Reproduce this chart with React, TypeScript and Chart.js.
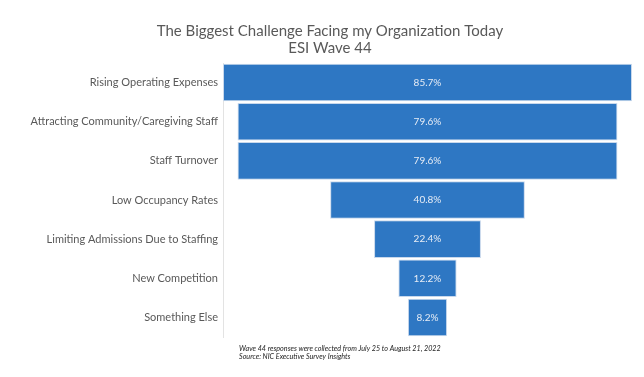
import React, { useEffect, useRef } from "react";
import { Chart, registerables } from "chart.js";

Chart.register(...registerables);

const categories = [
  "Rising Operating Expenses",
  "Attracting Community/Caregiving Staff",
  "Staff Turnover",
  "Low Occupancy Rates",
  "Limiting Admissions Due to Staffing",
  "New Competition",
  "Something Else",
];
const values = [85.7, 79.6, 79.6, 40.8, 22.4, 12.2, 8.2];
const titleLines = ["The Biggest Challenge Facing my Organization Today", "ESI Wave 44"];
const footnotes = [
  "Wave 44 responses were collected from July 25 to August 21, 2022",
  "Source: NIC Executive Survey Insights",
];

const FONT = "Lato, 'Open Sans', sans-serif";

export default function App() {
  const ref = useRef<HTMLCanvasElement>(null);
  useEffect(() => {
    document.body.style.margin = "0";
    const ctx = ref.current!.getContext("2d")!;
    const maxV = Math.max(...values);
    const deco = {
      id: "deco",
      afterDraw(chart: any) {
        const c = chart.ctx;
        const ca = chart.chartArea;
        c.save();
        // title
        c.fillStyle = "#595959";
        c.font = `15px ${FONT}`;
        c.textAlign = "center";
        c.textBaseline = "middle";
        titleLines.forEach((t, i) => c.fillText(t, 330, 31 + i * 17));
        // data labels
        const meta = chart.getDatasetMeta(0);
        c.font = `10px ${FONT}`;
        c.fillStyle = "#E6ECF5";
        meta.data.forEach((bar: any, i: number) => {
          const p = bar.getProps(["x", "base", "y"], true);
          c.fillText(values[i].toFixed(1) + "%", (p.x + p.base) / 2, p.y);
        });
        // footnotes
        c.font = `italic 7.2px ${FONT}`;
        c.fillStyle = "#222";
        c.textAlign = "left";
        footnotes.forEach((t, i) => c.fillText(t, ca.left + 16, ca.bottom + 12 + i * 8));
        c.restore();
      },
    };
    const chart = new Chart(ctx, {
      type: "bar",
      data: {
        labels: categories,
        datasets: [
          {
            data: values.map((v) => [-v / 2, v / 2]) as any,
            backgroundColor: "#2E77C3",
            borderColor: "#C8D8EC",
            borderWidth: 1,
            borderSkipped: false,
            barPercentage: 0.96,
            categoryPercentage: 1,
          },
        ],
      },
      options: {
        indexAxis: "y",
        animation: false,
        responsive: false,
        layout: { padding: { top: 63, right: 12, bottom: 40, left: 0 } },
        plugins: { legend: { display: false }, tooltip: { enabled: false }, title: { display: false } },
        scales: {
          x: { display: false, min: -maxV / 2, max: maxV / 2 },
          y: {
            grid: { display: false, drawTicks: false },
            border: { display: true, color: "#E3E3E3" },
            ticks: { color: "#595959", font: { family: FONT, size: 11 }, padding: 5 },
            afterFit: (s: any) => {
              s.width = 223;
            },
          },
        },
      },
      plugins: [deco],
    });
    return () => chart.destroy();
  }, []);
  return (
    <div style={{ position: "absolute", left: 0, top: 0, width: 644, height: 377, background: "#fff" }}>
      <canvas ref={ref} width={644} height={377} />
    </div>
  );
}
